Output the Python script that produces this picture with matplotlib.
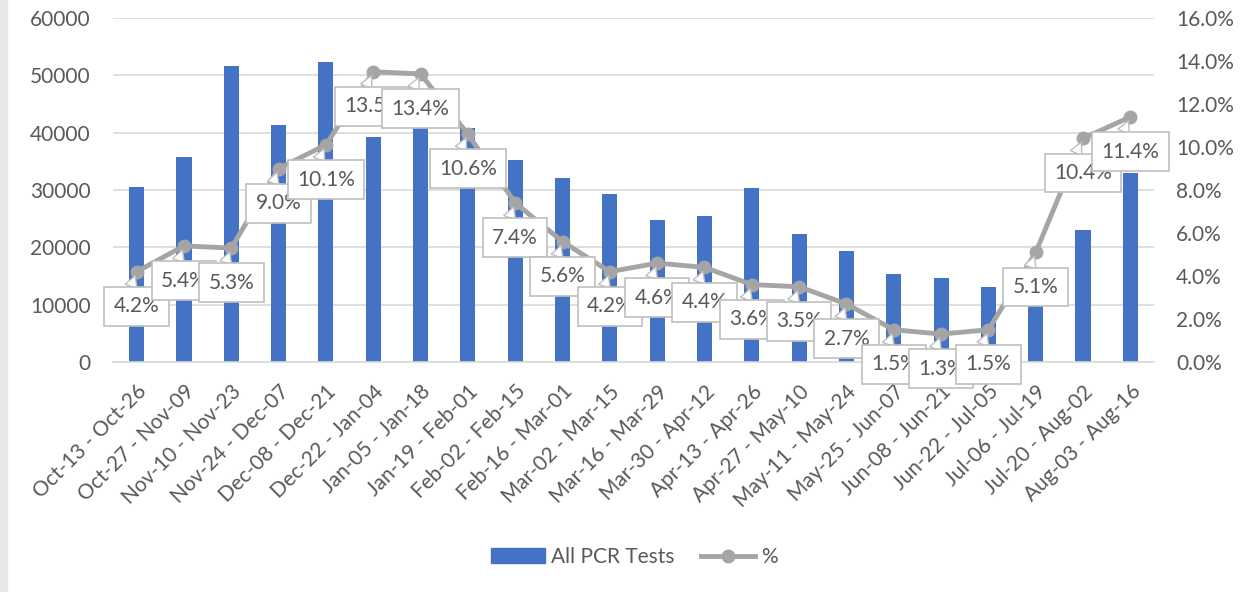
import matplotlib
matplotlib.use("Agg")
import matplotlib.pyplot as plt
from matplotlib.ticker import FuncFormatter, MultipleLocator
from matplotlib.lines import Line2D
from matplotlib.patches import Patch, Rectangle

plt.rcParams['font.family'] = ['Lato', 'DejaVu Sans']

# data
periods = ["Oct-13 - Oct-26", "Oct-27 - Nov-09", "Nov-10 - Nov-23", "Nov-24 - Dec-07",
           "Dec-08 - Dec-21", "Dec-22 - Jan-04", "Jan-05 - Jan-18", "Jan-19 - Feb-01",
           "Feb-02 - Feb-15", "Feb-16 - Mar-01", "Mar-02 - Mar-15", "Mar-16 - Mar-29",
           "Mar-30 - Apr-12", "Apr-13 - Apr-26", "Apr-27 - May-10", "May-11 - May-24",
           "May-25 - Jun-07", "Jun-08 - Jun-21", "Jun-22 - Jul-05", "Jul-06 - Jul-19",
           "Jul-20 - Aug-02", "Aug-03 - Aug-16"]
pcr_tests = [30600, 35700, 51600, 41300, 52300, 39200, 41400, 40800, 35200, 32100, 29300,
             24800, 25500, 30300, 22400, 19400, 15300, 14600, 13000, 12000, 23100, 33000]
pct_positive = [4.2, 5.4, 5.3, 9.0, 10.1, 13.5, 13.4, 10.6, 7.4, 5.6, 4.2, 4.6, 4.4, 3.6,
                3.5, 2.7, 1.5, 1.3, 1.5, 5.1, 10.4, 11.4]

blue = '#4472C4'
grey = '#A5A5A5'
txt = '#595959'

fig = plt.figure(figsize=(12.51, 5.92), dpi=100)
fig.patches.append(Rectangle((0, 0), 7 / 1251, 1, transform=fig.transFigure,
                             color='#E7E7E7', zorder=0))
ax = fig.add_axes([0.0903, 0.3885, 0.8322, 0.5811])
x = list(range(len(periods)))
ax.bar(x, pcr_tests, width=0.32, color=blue, zorder=2)
ax.set_xlim(-0.5, len(periods) - 0.5)
ax.set_ylim(0, 60000)
ax.yaxis.set_major_locator(MultipleLocator(10000))
ax.grid(axis='y', color='#D9D9D9', linewidth=1.2, zorder=0)
ax.set_axisbelow(True)
for s in ['top', 'right', 'left']:
    ax.spines[s].set_visible(False)
ax.spines['bottom'].set_color('#D9D9D9')
ax.spines['bottom'].set_linewidth(1.2)
ax.tick_params(axis='both', length=0, colors=txt, labelsize=15)
ax.tick_params(axis='y', pad=16)
ax.set_xticks(x)
ax.set_xticklabels(periods, rotation=45, ha='right', rotation_mode='anchor', fontsize=15)
ax.tick_params(axis='x', pad=14)

ax2 = ax.twinx()
ax2.set_ylim(0, 16)
ax2.yaxis.set_major_locator(MultipleLocator(2))
ax2.yaxis.set_major_formatter(FuncFormatter(lambda v, p: f"{v:.1f}%"))
ax2.tick_params(axis='y', length=0, colors=txt, labelsize=15, pad=16)
for s in ax2.spines.values():
    s.set_visible(False)
ax2.plot(x, pct_positive, color=grey, linewidth=3.5, marker='o', markersize=9,
         zorder=3, solid_capstyle='round')

for xi, v in zip(x, pct_positive):
    ax2.annotate(f"{v:.1f}%", xy=(xi, v), xytext=(0, -25), textcoords='offset points',
                 ha='center', va='center', fontsize=15, color=txt, zorder=5,
                 annotation_clip=False,
                 bbox=dict(boxstyle='square,pad=0.45', fc='white', ec='#BFBFBF', lw=1.2),
                 arrowprops=dict(arrowstyle='wedge,tail_width=0.6,shrink_factor=0.5',
                                 fc='white', ec='#BFBFBF', lw=1.0, shrinkA=0, shrinkB=3,
                                 relpos=(0.3, 1.0)))

handles = [Patch(color=blue, label='All PCR Tests'),
           Line2D([], [], color=grey, lw=3.5, marker='o', markersize=9, label='%')]
fig.legend(handles=handles, loc='center', bbox_to_anchor=(0.507, 1 - 557 / 592), ncol=2,
           frameon=False, fontsize=15, labelcolor=txt, handlelength=2.6, columnspacing=1.25,
           handletextpad=0.3)

fig.savefig('out.png', dpi=100)
